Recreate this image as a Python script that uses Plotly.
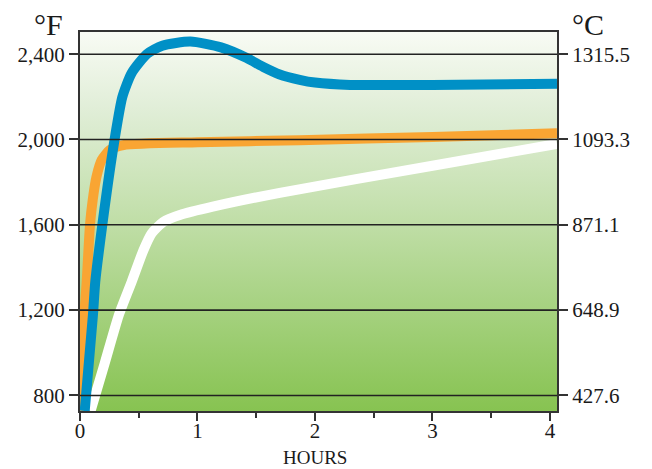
import plotly.graph_objects as go

# ---- data (hours, °F) ----
blue_h = [0.04, 0.11, 0.13, 0.19, 0.28, 0.36, 0.44, 0.57, 0.70, 0.94, 1.20, 1.42, 1.56, 1.70, 1.87, 2.0, 2.3, 3.0, 4.06]
blue_f = [727, 1176, 1333, 1600, 1951, 2199, 2312, 2401, 2440, 2459, 2432, 2382, 2340, 2305, 2280, 2267, 2256, 2256, 2261]

orange_h = [0.01, 0.023, 0.037, 0.057, 0.085, 0.108, 0.14, 0.185, 0.255, 0.37, 1.0, 1.87, 3.0, 4.06]
orange_f = [727, 1028, 1176, 1333, 1600, 1716, 1825, 1904, 1951, 1974, 1987, 1997, 2012, 2029]

white_h = [0.09, 0.21, 0.33, 0.44, 0.54, 0.61, 0.71, 0.85, 1.13, 1.70, 3.0, 4.06]
white_f = [727, 950, 1176, 1333, 1481, 1560, 1614, 1646, 1685, 1750, 1877, 1979]

f_ticks = [800, 1200, 1600, 2000, 2400]
f_labels = ["800", "1,200", "1,600", "2,000", "2,400"]
c_labels = ["427.6", "648.9", "871.1", "1093.3", "1315.5"]
hour_ticks = [0, 1, 2, 3, 4]
hour_minor = [0.5, 1.5, 2.5, 3.5]

x_range = [0, 4.06]
y_range = [727, 2504]

FONT = "Liberation Serif"
INK = "#1a1a1a"
FRAME = "#333333"

fig = go.Figure()

# gradient background
fig.add_trace(go.Scatter(
    x=[x_range[0], x_range[1], x_range[1], x_range[0], x_range[0]],
    y=[y_range[0], y_range[0], y_range[1], y_range[1], y_range[0]],
    mode="lines", line=dict(width=0), fill="toself",
    fillgradient=dict(type="vertical",
                      colorscale=[[0.0, "#87c351"], [0.3, "#a9d385"], [0.55, "#c6e1b0"],
                                  [0.8, "#e1eed8"], [1.0, "#f8fbf4"]]),
    hoverinfo="skip", showlegend=False))

for xs, ys, col in [(white_h, white_f, "#ffffff"),
                    (orange_h, orange_f, "#f9a533"),
                    (blue_h, blue_f, "#0090c6")]:
    fig.add_trace(go.Scatter(x=xs, y=ys, mode="lines",
                             line=dict(color=col, width=10, shape="spline", smoothing=0.6),
                             showlegend=False, hoverinfo="skip"))

# invisible trace for right axis
fig.add_trace(go.Scatter(x=x_range, y=y_range, yaxis="y2", mode="lines",
                         line=dict(width=0), hoverinfo="skip", showlegend=False))

# gridlines drawn over curves
for v in f_ticks:
    fig.add_shape(type="line", xref="paper", yref="y", x0=0, x1=1, y0=v, y1=v,
                  line=dict(color="#222222", width=1.6), layer="above")

tickfont = dict(family=FONT, size=21, color=INK)

fig.update_layout(
    width=644, height=461,
    margin=dict(l=72, r=95, t=24, b=58, autoexpand=False),
    paper_bgcolor="white", plot_bgcolor="white",
    xaxis=dict(range=x_range, tickvals=hour_ticks, ticktext=[str(t) for t in hour_ticks],
               ticks="outside", ticklen=8, tickwidth=2, tickcolor=FRAME, ticklabelstandoff=-8,
               minor=dict(tickvals=hour_minor, ticks="outside", ticklen=5, tickwidth=1.5, tickcolor=FRAME),
               showgrid=False, zeroline=False, showline=True, linecolor=FRAME, linewidth=2,
               mirror=True, tickfont=tickfont, layer="above traces"),
    yaxis=dict(range=y_range, tickvals=f_ticks, ticktext=f_labels,
               ticks="outside", ticklen=9, tickwidth=2, tickcolor=FRAME,
               showgrid=False, zeroline=False, showline=True, linecolor=FRAME, linewidth=2,
               tickfont=tickfont, layer="above traces"),
    yaxis2=dict(range=y_range, tickvals=f_ticks, ticktext=c_labels, overlaying="y", side="right",
                ticks="outside", ticklen=9, tickwidth=2, tickcolor=FRAME,
                showgrid=False, zeroline=False, showline=True, linecolor=FRAME, linewidth=2,
                tickfont=tickfont, layer="above traces"),
    annotations=[
        dict(text="°F", xref="paper", yref="paper", x=-0.065, y=1.02, showarrow=False,
             xanchor="center", yanchor="middle", font=dict(family=FONT, size=30, color=INK)),
        dict(text="°C", xref="paper", yref="paper", x=1.065, y=1.02, showarrow=False,
             xanchor="center", yanchor="middle", font=dict(family=FONT, size=30, color=INK)),
        dict(text="HOURS", xref="paper", yref="paper", x=0.493, y=-0.122, showarrow=False,
             xanchor="center", yanchor="middle", font=dict(family=FONT, size=19, color=INK)),
    ],
)

fig.write_html("out.html")
